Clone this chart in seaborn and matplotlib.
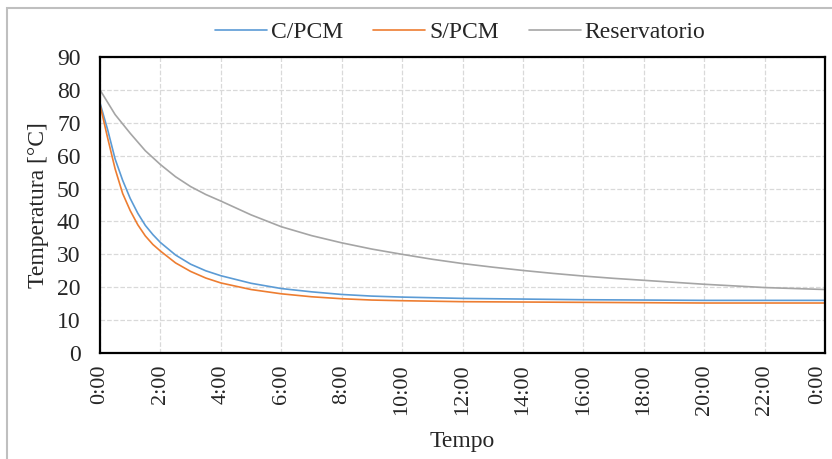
import pandas as pd
import matplotlib
matplotlib.use('Agg')
import matplotlib.pyplot as plt
import matplotlib.transforms as mtransforms
import seaborn as sns
from matplotlib.patches import Rectangle

# ============================================================================
# DATA
# ============================================================================

horas_cpcm = [0, 0.25, 0.5, 0.75, 1, 1.25, 1.5, 1.75, 2, 2.5, 3, 3.5, 4, 5, 6, 7, 8, 9, 10,
              12, 14, 16, 18, 20, 22, 24]
c_pcm = [76, 68, 59, 52.5, 47, 42.5, 38.8, 36, 33.6, 29.8, 27, 25, 23.5, 21.2, 19.6, 18.6, 17.8,
         17.3, 17.0, 16.6, 16.4, 16.2, 16.1, 16.0, 16.0, 16.0]

horas_spcm = [0, 0.25, 0.5, 0.75, 1, 1.25, 1.5, 1.75, 2, 2.5, 3, 3.5, 4, 5, 6, 7, 8, 9, 10,
              12, 14, 16, 18, 20, 22, 24]
s_pcm = [75.5, 65.5, 56, 48.5, 43.3, 39, 35.6, 33, 31, 27.4, 24.8, 22.8, 21.3, 19.3, 18.0, 17.1,
         16.5, 16.1, 15.9, 15.6, 15.5, 15.4, 15.3, 15.2, 15.2, 15.2]

horas_res = [0, 0.5, 1, 1.5, 2, 2.5, 3, 3.5, 4, 5, 6, 7, 8, 9, 10, 11, 12, 13, 14, 15, 16, 17,
             18, 19, 20, 21, 22, 23, 24]
reservatorio = [80, 72.5, 66.8, 61.5, 57.3, 53.6, 50.6, 48.2, 46.2, 42, 38.4, 35.7, 33.5, 31.6,
                30, 28.5, 27.2, 26.1, 25.1, 24.2, 23.4, 22.7, 22.1, 21.5, 20.9, 20.4, 19.9,
                19.6, 19.3]

series_names = ['C/PCM', 'S/PCM', 'Reservatorio']
series_colors = ['#5B9BD5', '#ED7D31', '#A5A5A5']

x_ticks = list(range(0, 25, 2))
x_labels = [f"{h % 24}:00" for h in x_ticks]
y_ticks = list(range(0, 91, 10))

df = pd.concat([
    pd.DataFrame({'Tempo': horas_cpcm, 'Temp': c_pcm, 'Serie': 'C/PCM'}),
    pd.DataFrame({'Tempo': horas_spcm, 'Temp': s_pcm, 'Serie': 'S/PCM'}),
    pd.DataFrame({'Tempo': horas_res, 'Temp': reservatorio, 'Serie': 'Reservatorio'}),
], ignore_index=True)

# ============================================================================
# PLOT
# ============================================================================

sns.set_style('white')
plt.rcParams['font.family'] = ['Liberation Serif', 'DejaVu Serif']
FS = 17

fig = plt.figure(figsize=(8.32, 4.59), dpi=100)
ax = fig.add_axes([100 / 832, 1 - 353 / 459, 725 / 832, 296 / 459])

# outer chart-area border (light gray, runs off the right/bottom edge)
fig.patches.append(Rectangle((7 / 832, -0.1), 1.2, 1 - 8 / 459 + 0.1,
                             transform=fig.transFigure, fill=False,
                             edgecolor='#BFBFBF', linewidth=1.5))

sns.lineplot(data=df, x='Tempo', y='Temp', hue='Serie', hue_order=series_names,
             palette=series_colors, linewidth=1.2, ax=ax, legend=True)

ax.set_xlim(0, 24)
ax.set_ylim(0, 90)
ax.set_xticks(x_ticks)
ax.set_xticklabels(x_labels, rotation=90, fontsize=16)
ax.set_yticks(y_ticks)
ax.set_yticklabels([str(v) for v in y_ticks], fontsize=FS)
ax.tick_params(axis='x', length=0, pad=8)
ax.tick_params(axis='y', length=0, pad=14)

# last label nudged left so it stays inside the image (as Excel does)
last = ax.get_xticklabels()[-1]
last.set_transform(last.get_transform() +
                   mtransforms.ScaledTranslation(-7 / 100, 0, fig.dpi_scale_trans))

ax.grid(True, color='#D9D9D9', linestyle='--', linewidth=0.9)
ax.set_axisbelow(True)
for sp in ax.spines.values():
    sp.set_visible(True)
    sp.set_color('black')
    sp.set_linewidth(1.6)

ax.set_xlabel('Tempo', fontsize=FS, labelpad=12)
ax.set_ylabel('Temperatura [°C]', fontsize=FS, labelpad=6)

handles, labels = ax.get_legend_handles_labels()
ax.legend(handles, labels, loc='lower center', bbox_to_anchor=(0.497, 1.0), ncol=3,
          frameon=False, fontsize=FS, handlelength=2.2, columnspacing=1.3,
          handletextpad=0.15, borderaxespad=0.2)

plt.savefig('out.png', dpi=100)
